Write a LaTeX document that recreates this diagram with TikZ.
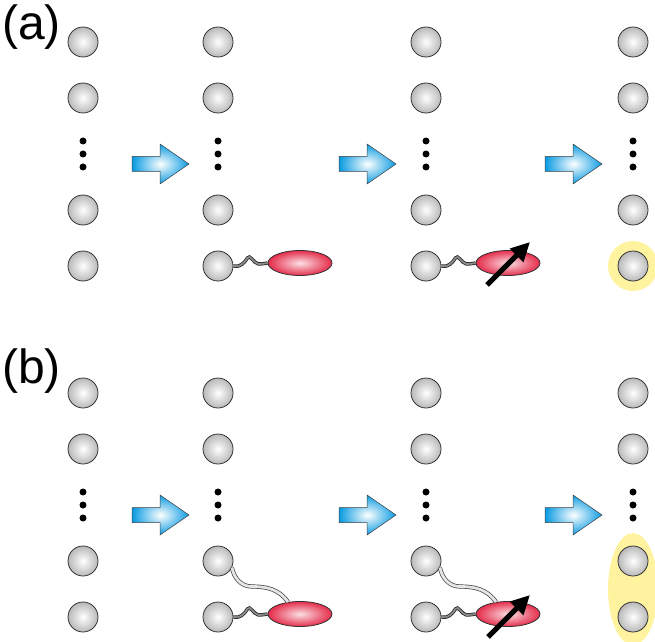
\documentclass[tikz,border=0pt]{standalone}
\usepackage{fontspec}
\setmainfont{Liberation Sans}
\usetikzlibrary{calc,shapes.geometric,arrows.meta}

\definecolor{flowblue}{RGB}{10,155,225}
\definecolor{molred}{RGB}{228,45,75}
\definecolor{glowyellow}{RGB}{255,243,160}

\tikzset{
  site/.style={circle, draw=black!80, line width=0.8pt, inner sep=0pt, minimum size=30pt,
    inner color=white, outer color=gray!55},
  mol/.style={ellipse, draw=black!80, line width=0.8pt, inner sep=0pt, minimum width=64pt,
    minimum height=25pt, inner color=white!85!molred, outer color=molred},
  flow/.style={draw=black!75, line width=0.5pt, inner color=white, outer color=flowblue},
  wire/.style={draw=black!85, line width=0.8pt, double=black!45, double distance=1.8pt},
  leash/.style={draw=black!75, line width=0.7pt, double=gray!20, double distance=2.8pt},
  spin/.style={-{Triangle[length=19pt,width=18pt]}, line width=5pt},
  glow/.style={fill=glowyellow},
  tag/.style={anchor=base west, inner sep=0pt, font=\fontsize{48}{48}\selectfont}
}

\begin{document}
\begin{tikzpicture}[x=1pt,y=1pt]
\useasboundingbox (0,0) rectangle (655,641);
\fill[glow] (633,375) circle (25);
\fill[glow] (633,52) ellipse (25 and 56);
\foreach \p/\dy in {a/0,b/-351} {
  \foreach \c/\x in {1/83,2/218,3/426,4/633} {
    \foreach \r/\y in {1/599,2/543,3/431,4/375}
      \node[site] (\p\c\r) at (\x,\y+\dy) {};
    \foreach \y in {500,487,474}
      \fill (\x,\y+\dy) circle (3.5);
  }
  \foreach \x in {132,339,545}
    \draw[flow] (\x,477+\dy) ++(0,-7.5) -- ++(28,0) -- ++(0,-12.5) -- ++(29,20)
      -- ++(-29,20) -- ++(0,-12.5) -- ++(-28,0) -- cycle;
}
\node[tag] (la) at (2,601) {(a)};
\node[tag] (lb) at (2,258) {(b)};
\node[mol] (ma2) at (300,378) {};
\node[mol] (ma3) at (508,378) {};
\node[mol] (mb2) at (300,27) {};
\node[mol] (mb3) at (508,27) {};
\foreach \s/\m in {a24/ma2,a34/ma3,b24/mb2,b34/mb3}
  \draw[wire] (\s.east) to[out=-15,in=-120] ++(14,8) to[out=60,in=170] ++(11,-6)
    to[out=-10,in=180] (\m.west);
\foreach \s/\m in {b23/mb2,b33/mb3}
  \draw[leash] (\s.-25) to[out=-80,in=180] ++(20,-19) to[out=0,in=125] (\m.135);
\draw[spin] ($(ma3)+(-21,-22)$) -- ($(ma3)+(22,21)$);
\draw[spin] ($(mb3)+(-20,-23)$) -- ($(mb3)+(22,19)$);
\end{tikzpicture}
\end{document}
